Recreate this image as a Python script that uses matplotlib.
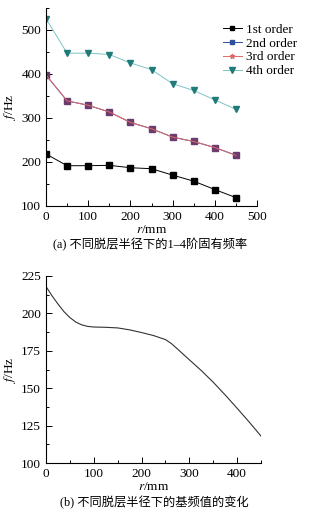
import numpy as np
import matplotlib
matplotlib.use("Agg")
import matplotlib.pyplot as plt
from matplotlib.lines import Line2D
from matplotlib.ticker import MultipleLocator

# data
r = [0, 50, 100, 150, 200, 250, 300, 350, 400, 450]
f1 = [218.3, 191.6, 191.6, 192.4, 187.0, 184.7, 170.2, 156.5, 137.4, 119.1]
f2 = [397.7, 338.9, 329.0, 313.7, 290.0, 275.6, 256.5, 246.6, 232.8, 215.3]
f3 = [397.7, 338.9, 329.0, 313.7, 290.0, 275.6, 256.5, 246.6, 232.8, 215.3]
f4 = [526.0, 447.3, 447.3, 444.3, 425.2, 409.9, 377.9, 362.6, 341.2, 319.8]
labels = ['1st order', '2nd order', '3rd order', '4th order']

# fundamental frequency curve (b)
r_curve = [0, 12.5, 25, 37.5, 50, 62.5, 75, 87.5, 100, 125, 150, 175, 200, 225,
           250, 262.5, 275, 287.5, 300, 325, 350, 375, 400, 425, 450]
f_curve = [218.0, 211.8, 206.3, 201.2, 197.2, 194.2, 192.3, 191.3, 190.9, 190.7,
           190.3, 189.0, 187.2, 185.2, 182.5, 179.8, 176.3, 172.6, 169.0, 161.8,
           154.0, 145.5, 136.6, 127.5, 118.0]

plt.rcParams['font.family'] = ['Liberation Serif', 'Noto Sans CJK SC']
plt.rcParams['font.size'] = 9.5
plt.rcParams['mathtext.fontset'] = 'stix'

c1, c2, c3 = 'black', '#2f4f9f', '#e06a6a'
c4_line, c4_mark = '#7cc4c4', '#1f7a78'
c23_mark = '#6c3c6e'  # 2nd/3rd markers coincide and blend

fig = plt.figure(figsize=(3.31, 5.15), dpi=100)

def style_axes(ax):
    ax.spines['top'].set_visible(False)
    ax.spines['right'].set_visible(False)
    for s in ['left', 'bottom']:
        ax.spines[s].set_linewidth(0.8)
    ax.tick_params(which='both', direction='in', width=0.7)
    ax.tick_params(which='major', length=4)
    ax.tick_params(which='minor', length=2)

# (a) 1-4 natural frequencies
ax1 = fig.add_axes([46/331, 1-206/515, (257-46)/331, (206-8)/515])
ax1.plot(r, f1, '-s', color=c1, lw=0.7, ms=3.8)
ax1.plot(r, f2, '-s', color=c2, lw=0.7, ms=3.8, mfc=c23_mark, mec=c23_mark)
ax1.plot(r, f3, '-', color=c3, lw=0.7)
ax1.plot(r, f4, '-v', color=c4_line, lw=0.7, ms=4.2, mfc=c4_mark, mec=c4_mark)
ax1.set_xlim(0, 500)
ax1.set_ylim(100, 550)
ax1.set_xticks([0, 100, 200, 300, 400, 500])
ax1.set_yticks([100, 200, 300, 400, 500])
ax1.xaxis.set_minor_locator(MultipleLocator(50))
ax1.yaxis.set_minor_locator(MultipleLocator(50))
style_axes(ax1)
ax1.set_xlabel('$\\mathit{r}$/mm', labelpad=1)
ax1.set_ylabel('$\\mathit{f}$/Hz', labelpad=2)

handles = [
    Line2D([], [], color=c1, lw=0.7, marker='s', ms=3.5),
    Line2D([], [], color=c2, lw=0.7, marker='s', ms=3.5),
    Line2D([], [], color=c3, lw=0.7, marker='*', ms=3.5),
    Line2D([], [], color=c4_line, lw=0.7, marker='v', ms=4, mfc=c4_mark, mec=c4_mark),
]
ax1.legend(handles, labels, loc='upper left', bbox_to_anchor=(216/331, 1-17/515),
           bbox_transform=fig.transFigure, frameon=False, fontsize=9.5,
           handlelength=1.5, handletextpad=0.3, labelspacing=0.12,
           borderpad=0)
fig.text(150/331, 1-245/515, '(a) 不同脱层半径下的1–4阶固有频率',
         ha='center', va='center', fontsize=8.8)

# (b) fundamental frequency
ax2 = fig.add_axes([46/331, 1-463/515, (261-46)/331, (463-276)/515])
ax2.plot(r_curve, f_curve, '-', color='#333333', lw=0.8)
ax2.set_xlim(0, 450)
ax2.set_ylim(100, 225)
ax2.set_xticks([0, 100, 200, 300, 400])
ax2.set_yticks([100, 125, 150, 175, 200, 225])
ax2.xaxis.set_minor_locator(MultipleLocator(50))
ax2.yaxis.set_minor_locator(MultipleLocator(12.5))
style_axes(ax2)
ax2.set_xlabel('$\\mathit{r}$/mm', labelpad=1)
ax2.set_ylabel('$\\mathit{f}$/Hz', labelpad=2)
fig.text(154/331, 1-503/515, '(b) 不同脱层半径下的基频值的变化',
         ha='center', va='center', fontsize=8.8)

fig.savefig('out.png', dpi=100)
